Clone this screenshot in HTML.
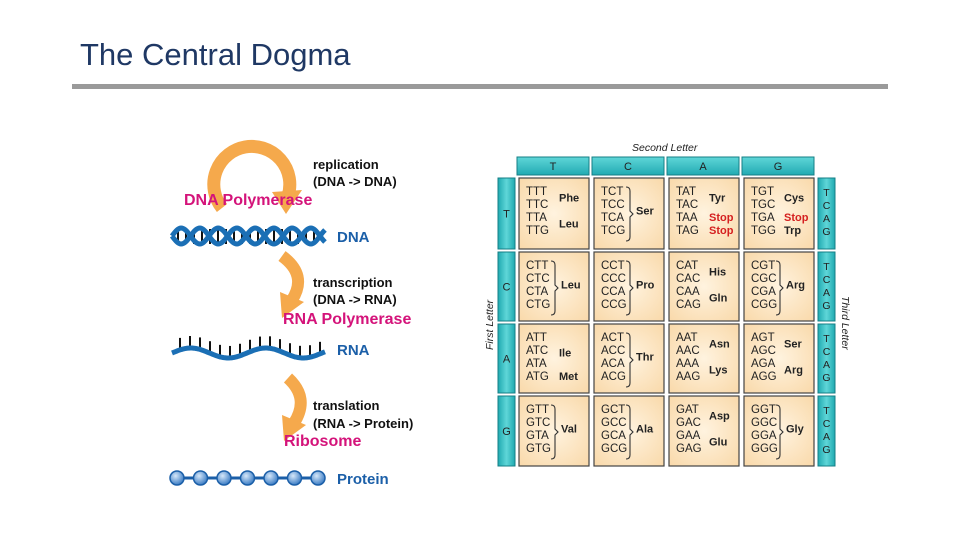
<!DOCTYPE html>
<html><head><meta charset="utf-8"><style>
html,body{margin:0;padding:0;background:#fff;}
svg{display:block;font-family:"Liberation Sans",sans-serif;}
</style></head><body>
<svg id="s" width="960" height="540" viewBox="0 0 960 540" xmlns="http://www.w3.org/2000/svg">
<defs>
<radialGradient id="cell" cx="50%" cy="50%" r="70%"><stop offset="0" stop-color="#fff3df"/><stop offset="1" stop-color="#f9d9aa"/></radialGradient>
<linearGradient id="teal" x1="0" y1="0" x2="1" y2="0"><stop offset="0" stop-color="#1fa9b0"/><stop offset="0.5" stop-color="#5fd6d8"/><stop offset="1" stop-color="#1fa9b0"/></linearGradient>
<linearGradient id="tealh" x1="0" y1="0" x2="0" y2="1"><stop offset="0" stop-color="#5fd6d8"/><stop offset="1" stop-color="#22aab2"/></linearGradient>
<radialGradient id="bead" cx="40%" cy="35%" r="65%"><stop offset="0" stop-color="#d6e8fa"/><stop offset="1" stop-color="#3b7cc4"/></radialGradient>
</defs>
<text x="80" y="65" font-size="31" fill="#1f3864" font-family="Liberation Sans, sans-serif">The Central Dogma</text>
<rect x="72" y="84" width="816" height="5" fill="#9a9a9a"/>

<path d="M222,208 A38,38 0 1 1 288,196" fill="none" stroke="#f5a94c" stroke-width="13"/>
<polygon points="272,192 302,190 286,214" fill="#f5a94c"/>
<path d="M282,256 Q308,275 292,300" fill="none" stroke="#f5a94c" stroke-width="12"/>
<polygon points="280,292 304,302 282,318" fill="#f5a94c"/>
<path d="M288,378 Q310,398 294,423" fill="none" stroke="#f5a94c" stroke-width="12"/>
<polygon points="282,415 306,425 284,441" fill="#f5a94c"/>

<g font-weight="bold" font-size="13" fill="#111">
<text x="313" y="169">replication</text><text x="313" y="186">(DNA -&gt; DNA)</text>
<text x="313" y="287">transcription</text><text x="313" y="304">(DNA -&gt; RNA)</text>
<text x="313" y="410">translation</text><text x="313" y="428">(RNA -&gt; Protein)</text>
</g>
<g font-weight="bold" font-size="16" fill="#d4137a">
<text x="184" y="205">DNA Polymerase</text>
<text x="283" y="324">RNA Polymerase</text>
<text x="284" y="446">Ribosome</text>
</g>
<g font-weight="bold" font-size="15" fill="#1b5fa8">
<text x="337" y="242">DNA</text><text x="337" y="355">RNA</text><text x="337" y="484">Protein</text>
</g>
<g id="dna"></g>
<g id="tbl"></g>
<text x="632" y="151" font-size="10.5" font-style="italic" fill="#222">Second Letter</text>
<text transform="translate(493,350) rotate(-90)" font-size="10.5" font-style="italic" fill="#222">First Letter</text>
<text transform="translate(842,296) rotate(90)" font-size="10.5" font-style="italic" fill="#222">Third Letter</text>
</svg>
<script>
var NS="http://www.w3.org/2000/svg";
function el(p,t,a,txt){var e=document.createElementNS(NS,t);for(var k in a)e.setAttribute(k,a[k]);if(txt!=null)e.textContent=txt;p.appendChild(e);return e;}
var d=document.getElementById('dna');
function wave(x0,x1,yc,amp,per,ph){var s="";for(var x=x0;x<=x1;x+=1){var y=yc+amp*Math.sin((x-x0)/per*2*Math.PI+ph);s+=(x==x0?"M":"L")+x+","+y.toFixed(1);}return s;}
for(var x=178;x<322;x+=8){el(d,'line',{x1:x,y1:229,x2:x,y2:244,stroke:'#111','stroke-width':2});}
el(d,'path',{d:wave(172,325,236,8,37,0),fill:'none',stroke:'#1b6fb5','stroke-width':5});
el(d,'path',{d:wave(172,325,236,8,37,Math.PI),fill:'none',stroke:'#1b6fb5','stroke-width':5});
for(var x=180;x<325;x+=10){var yy=351+5*Math.sin((x-172)/75*2*Math.PI+Math.PI);el(d,'line',{x1:x,y1:yy,x2:x,y2:yy-10,stroke:'#111','stroke-width':2});}
el(d,'path',{d:wave(172,325,353,5,75,Math.PI),fill:'none',stroke:'#1b6fb5','stroke-width':5});
el(d,'line',{x1:177,y1:478,x2:318,y2:478,stroke:'#1b5fa8','stroke-width':3});
for(var i=0;i<7;i++)el(d,'circle',{cx:177+i*23.5,cy:478,r:7,fill:'url(#bead)',stroke:'#1b5fa8','stroke-width':1.5});

var t=document.getElementById('tbl');
var cx=[519,594,669,744], cw=70;
var ry=[178,252,324,396], rh=[71,69,69,70];
var L=['T','C','A','G'];
for(var i=0;i<4;i++){
 el(t,'rect',{x:cx[i]-2,y:157,width:72,height:18,fill:'url(#tealh)',stroke:'#157f86','stroke-width':1});
 el(t,'text',{x:cx[i]+34,y:170,'font-size':11,'text-anchor':'middle',fill:'#222'},L[i]);
 el(t,'rect',{x:498,y:ry[i],width:17,height:rh[i],fill:'url(#teal)',stroke:'#157f86','stroke-width':1});
 el(t,'text',{x:506.5,y:ry[i]+rh[i]/2+4,'font-size':11,'text-anchor':'middle',fill:'#222'},L[i]);
 el(t,'rect',{x:818,y:ry[i],width:17,height:rh[i],fill:'url(#teal)',stroke:'#157f86','stroke-width':1});
 for(var k=0;k<4;k++)el(t,'text',{x:826.5,y:ry[i]+18+k*13,'font-size':10.5,'text-anchor':'middle',fill:'#222'},L[k]);
}
var aa={
'TT':[['Phe',1.5],['Leu',3.5]],'TC':[['Ser',2.5]],'TA':[['Tyr',1.5],['Stop',3,1],['Stop',4,1]],'TG':[['Cys',1.5],['Stop',3,1],['Trp',4]],
'CT':[['Leu',2.5]],'CC':[['Pro',2.5]],'CA':[['His',1.5],['Gln',3.5]],'CG':[['Arg',2.5]],
'AT':[['Ile',2.2],['Met',4]],'AC':[['Thr',2.5]],'AA':[['Asn',1.5],['Lys',3.5]],'AG':[['Ser',1.5],['Arg',3.5]],
'GT':[['Val',2.5]],'GC':[['Ala',2.5]],'GA':[['Asp',1.5],['Glu',3.5]],'GG':[['Gly',2.5]]};
for(var r=0;r<4;r++)for(var c=0;c<4;c++){
 var x=cx[c],y=ry[r];
 el(t,'rect',{x:x,y:y,width:cw,height:rh[r],fill:'url(#cell)',stroke:'#444','stroke-width':1.2});
 for(var k=0;k<4;k++)el(t,'text',{x:x+7,y:y+17+k*13,'font-size':11.5,fill:'#222'},L[r]+L[c]+L[k]);
 var list=aa[L[r]+L[c]];
 list.forEach(function(a){
  el(t,'text',{x:x+(list.length==1?42:40),y:y+17+(a[1]-1)*13,'font-size':11,'font-weight':'bold',fill:a[2]?'#d52020':'#222'},a[0]);
 });
 if(list.length==1)el(t,'path',{d:'M'+(x+32)+','+(y+9)+' q4,0 4,4 v20 l3,3 l-3,3 v20 q0,4 -4,4',fill:'none',stroke:'#333','stroke-width':1.1});
}
</script>
</body></html>
